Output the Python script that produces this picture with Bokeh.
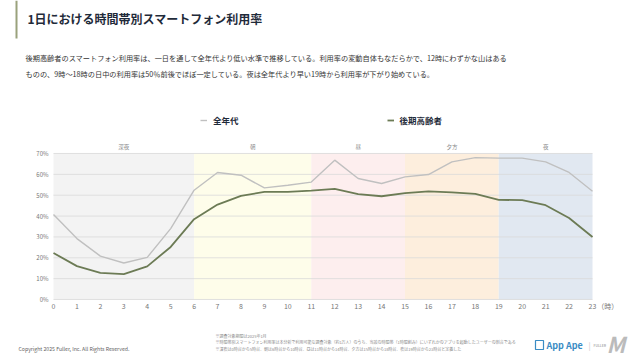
from bokeh.plotting import figure
from bokeh.models import (FixedTicker, PrintfTickFormatter, Range1d, LinearAxis,
                          Legend, LegendItem)
from bokeh.core.properties import value
from bokeh.embed import file_html
from bokeh.resources import INLINE

# ---- data ----
hours = list(range(24))
all_ages = [40.7, 29.2, 20.8, 17.5, 20.2, 34.0, 52.4, 60.9, 59.6, 53.5, 54.8, 56.3,
            66.8, 58.0, 55.6, 58.8, 59.9, 66.0, 68.0, 67.8, 67.8, 66.0, 60.9, 51.9]
elderly = [22.3, 16.0, 12.8, 12.2, 15.9, 25.2, 38.5, 45.5, 49.7, 51.6, 51.6, 52.2,
           53.0, 50.5, 49.5, 51.0, 51.8, 51.4, 50.6, 47.8, 47.6, 45.2, 39.1, 30.0]
band_names = ["深夜", "朝", "昼", "夕方", "夜"]
band_start = [0, 6, 11, 15, 19]
band_end = [6, 11, 15, 19, 23]
band_colors = ["#f3f3f3", "#fefdea", "#fdeeee", "#fdeedd", "#e1e8f1"]
y_ticks = [0, 10, 20, 30, 40, 50, 60, 70]
x_unit = "（時）"
series_names = ["全年代", "後期高齢者"]

title_text = "1日における時間帯別スマートフォン利用率"
body_lines = [
    "後期高齢者のスマートフォン利用率は、一日を通して全年代より低い水準で推移している。利用率の変動自体もなだらかで、12時にわずかな山はある",
    "ものの、9時～18時の日中の利用率は50％前後でほぼ一定している。夜は全年代より早い19時から利用率が下がり始めている。",
]
notes = [
    "※調査対象期間は2025年1月",
    "※時間帯別スマートフォン利用率は本分析で利用可能な調査対象（約1万人）のうち、当該の時間帯（1時間刻み）にいずれかのアプリを起動したユーザーの割合である",
    "※深夜は0時台から5時台、朝は6時台から10時台、昼は11時台から14時台、夕方は15時台から18時台、夜は19時台から23時台と定義した",
]
copyright_text = "Copyright 2025 Fuller, Inc. All Rights Reserved."

FONT = "Noto Sans CJK JP"
W, H = 640, 360

# one canvas; default ranges are page pixels (y up), chart uses its own ranges
p = figure(width=W, height=H, output_backend="svg", toolbar_location=None,
           x_range=Range1d(0, W), y_range=Range1d(0, H),
           x_axis_location=None, y_axis_location=None,
           min_border=0, min_border_left=0, min_border_right=0,
           min_border_top=0, min_border_bottom=0)
p.grid.visible = False
p.outline_line_color = None
p.extra_x_ranges = {"hours": Range1d(-2.2616, 25.048)}
p.extra_y_ranges = {"pct": Range1d(-29.247, 143.356)}
CH = dict(x_range_name="hours", y_range_name="pct")


def txt(x, y, t, size, color="#333333", style="normal", align="left"):
    p.text(x=[x], y=[y], text=[t], text_font=value(FONT), text_font_size=size,
           text_color=color, text_font_style=style, text_align=align,
           text_baseline="middle")


# ---- header ----
p.quad(left=[15], right=[17], top=[H], bottom=[322], fill_color="#9aa27c", line_color=None)
txt(27, 342, title_text, "12px", "#1f2b3a", "bold")
txt(25, 303, body_lines[0], "7.2px", "#333333")
txt(25, 287, body_lines[1], "7.2px", "#333333")

# ---- chart ----
p.quad(left=band_start, right=band_end, bottom=0, top=y_ticks[-1], fill_color=band_colors,
       line_color=None, **CH)
p.segment(x0=[hours[0]] * len(y_ticks), x1=[hours[-1]] * len(y_ticks), y0=y_ticks, y1=y_ticks,
          line_color="#d9d9d9", line_width=0.8, **CH)
r_all = p.line(hours, all_ages, line_color="#c0c0c0", line_width=1.4, **CH)
r_eld = p.line(hours, elderly, line_color="#6c7b55", line_width=1.8, **CH)
p.text(x=[(s + e) / 2 for s, e in zip(band_start, band_end)], y=[73.35] * len(band_names),
       text=band_names, text_font=value(FONT), text_font_size="5.5px", text_color="#888888",
       text_align="center", text_baseline="middle", **CH)

unit_pos = 23.65
xaxis = LinearAxis(x_range_name="hours", y_range_name="pct", fixed_location=0,
                   ticker=FixedTicker(ticks=hours + [unit_pos]),
                   major_label_overrides={unit_pos: x_unit})
yaxis = LinearAxis(x_range_name="hours", y_range_name="pct", fixed_location=0,
                   ticker=FixedTicker(ticks=y_ticks),
                   formatter=PrintfTickFormatter(format="%d%%"))
for ax in (xaxis, yaxis):
    ax.axis_line_color = None
    ax.major_tick_line_color = None
    ax.minor_tick_line_color = None
    ax.major_tick_out = 0
    ax.major_tick_in = 0
    ax.minor_tick_out = 0
    ax.minor_tick_in = 0
    ax.major_label_text_color = "#777777"
    ax.major_label_text_font = FONT
xaxis.major_label_text_font_size = "7px"
yaxis.major_label_text_font_size = "6px"
xaxis.major_label_standoff = 2
yaxis.major_label_standoff = 5
p.add_layout(xaxis, "below")
p.add_layout(yaxis, "left")

legend = Legend(items=[LegendItem(label=series_names[0], renderers=[r_all]),
                       LegendItem(label=series_names[1], renderers=[r_eld])],
                location=(200, 234), orientation="horizontal",
                glyph_width=7, glyph_height=8, label_height=8, label_standoff=6,
                spacing=148, padding=0, margin=0,
                label_text_font=FONT, label_text_font_size="8.5px",
                label_text_font_style="bold", label_text_color="#1f2b3a",
                border_line_color=None, background_fill_alpha=0)
p.add_layout(legend)

# ---- footer ----
for i, t in enumerate(notes):
    txt(215, 25 - 6.5 * i, t, "4px", "#8a8a8a")
txt(18, 12, copyright_text, "5.2px", "#666666")
p.quad(left=[535], right=[543], top=[20], bottom=[11], fill_color=None,
       line_color="#3a8cc4", line_width=1.2)
txt(546, 15, "App Ape", "9px", "#3a8cc4", "bold")
txt(588, 15, "|", "8px", "#cccccc")
txt(593, 15, "FULLER", "3.5px", "#888888")
txt(606, 18, "M", "22px", "#bbbbbb", "bold italic")

open("out.html", "w").write(file_html(p, INLINE))
